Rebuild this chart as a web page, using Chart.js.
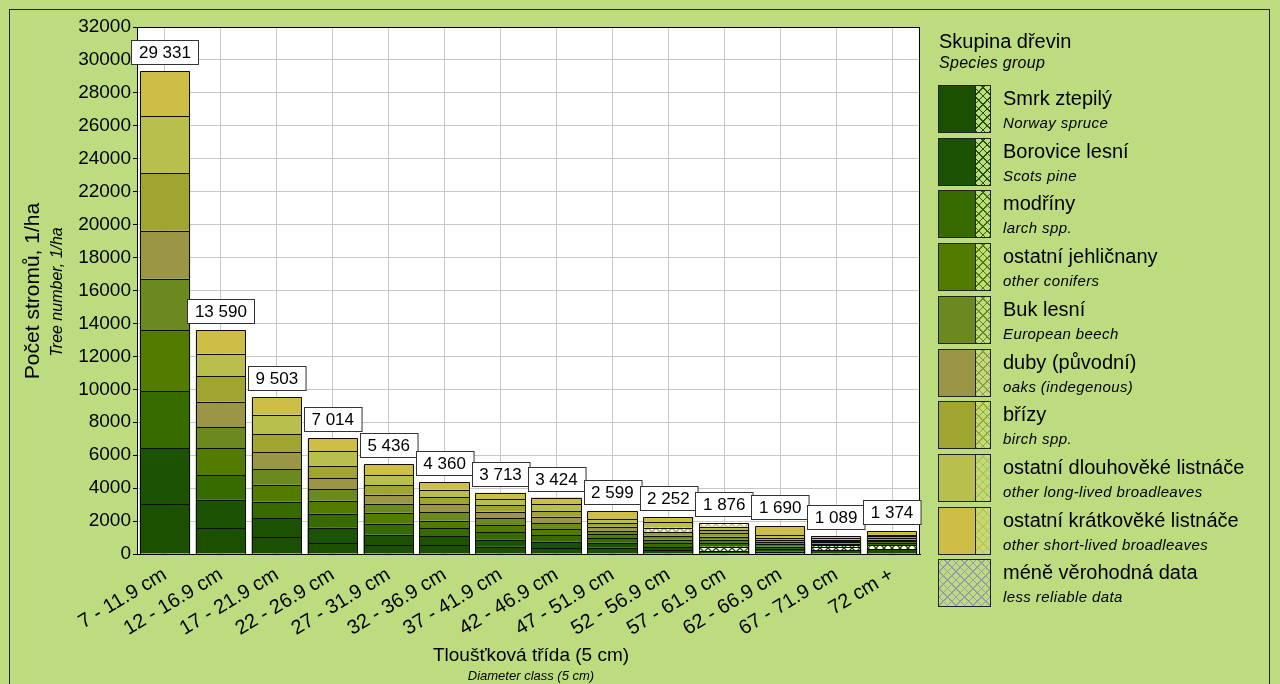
<!DOCTYPE html>
<html><head><meta charset="utf-8">
<script src="https://cdn.jsdelivr.net/npm/chart.js@4.4.1/dist/chart.umd.min.js"></script>
<style>
html,body{margin:0;padding:0;background:#bddc80;width:1280px;height:684px;overflow:hidden;font-family:"Liberation Sans",Arial,sans-serif;color:#000}
#wrap{position:absolute;left:0;top:0;width:1280px;height:684px}
#frame{position:absolute;left:9px;top:9px;width:1261px;height:700px;border:1px solid #222;box-sizing:border-box}
canvas{position:absolute;left:0;top:0}
.t{position:absolute;white-space:nowrap}
.sw{position:absolute;border:1px solid #222;box-sizing:border-box}
</style></head>
<body><div id="wrap">
<div id="frame"></div>
<canvas id="c" width="1280" height="684"></canvas>
<div id="overlay"></div>
</div>
<script>
// ---- data ----
const categories = ["7 - 11.9 cm","12 - 16.9 cm","17 - 21.9 cm","22 - 26.9 cm","27 - 31.9 cm","32 - 36.9 cm","37 - 41.9 cm","42 - 46.9 cm","47 - 51.9 cm","52 - 56.9 cm","57 - 61.9 cm","62 - 66.9 cm","67 - 71.9 cm","72 cm +"];
const totals = [29331,13590,9503,7014,5436,4360,3713,3424,2599,2252,1876,1690,1089,1374];
const smrk        = [3021,1582,1017,669,526,548,446,345,384,213,180,150,240,300];
const borovice    = [3391,1706,1147,922,655,527,426,405,294,190,260,160,170,220];
const modriny     = [3493,1480,1023,859,655,486,446,406,294,237,230,140,150,140];
const ostJehl     = [3699,1644,1024,778,676,467,446,365,226,237,200,150,70,100];
const buk         = [3124,1294,942,717,552,507,406,365,226,237,190,130,80,110];
const duby        = [2897,1542,1023,675,533,487,406,385,226,237,200,140,70,90];
const brizy       = [3535,1541,1106,737,593,425,405,365,226,237,200,130,100,110];
const dlouhoveke  = [3411,1377,1166,880,614,467,365,406,226,356,196,150,110,80];
const kratkoveke  = [2760,1424,1055,777,632,446,367,382,497,308,220,540,99,224];
const seriesNames = ["Smrk ztepilý","Borovice lesní","modříny","ostatní jehličnany","Buk lesní","duby (původní)","břízy","ostatní dlouhověké listnáče","ostatní krátkověké listnáče"];
const seriesNamesEn = ["Norway spruce","Scots pine","larch spp.","other conifers","European beech","oaks (indegenous)","birch spp.","other long-lived broadleaves","other short-lived broadleaves"];
// category indices with less reliable data, per series
const lessReliable = [[],[10,12,13],[12],[],[],[],[9],[],[10]];
const yTicks = {min:0,max:32000,step:2000};

const seriesValues = [smrk,borovice,modriny,ostJehl,buk,duby,brizy,dlouhoveke,kratkoveke];
const colors = ['#1a5000','#1b5203','#376b00','#527b00','#6c891f','#9a9645','#9fa52f','#b8bf4d','#cdbf45'];

function hatch(color,bg){
  const c=document.createElement('canvas');c.width=8;c.height=8;
  const g=c.getContext('2d');
  g.fillStyle=bg;g.fillRect(0,0,8,8);
  g.strokeStyle=color;g.lineWidth=1.3;
  g.beginPath();g.moveTo(-1,-1);g.lineTo(9,9);g.moveTo(9,-1);g.lineTo(-1,9);g.stroke();
  return g.createPattern(c,'repeat');
}

const datasets = seriesValues.map((vals,k)=>({
  label: seriesNames[k],
  data: vals,
  backgroundColor: vals.map((v,i)=> lessReliable[k].includes(i) ? hatch(colors[k],'#ffffff') : colors[k]),
  borderWidth:0,
  barPercentage:0.9,
  categoryPercentage:1.0
}));

const FONT='"Liberation Sans", Arial, sans-serif';

const plotBg={id:'plotBg',beforeDraw(ch){const a=ch.chartArea,x=ch.ctx;x.save();x.fillStyle='#fff';x.fillRect(a.left,a.top,a.right-a.left,a.bottom-a.top);x.restore();}};
const frameLbl={id:'frameLbl',afterDatasetsDraw(ch){
  const a=ch.chartArea,x=ch.ctx,xs=ch.scales.x,ys=ch.scales.y;
  x.save();
  // crisp segment outlines from the library's bar elements: one line per boundary + sides
  x.strokeStyle='#0d0d0d';x.lineWidth=1;
  ch.data.datasets.forEach((ds,di)=>{
    ch.getDatasetMeta(di).data.forEach(el=>{
      const p=el.getProps(['x','y','base','width'],true);
      const l=Math.round(p.x-p.width/2)+0.5, r=Math.round(p.x+p.width/2)-0.5;
      const t=Math.round(p.y)+0.5, b=Math.round(p.base)+0.5;
      x.beginPath();
      x.moveTo(l,b);x.lineTo(l,t);x.lineTo(r,t);x.lineTo(r,b);
      x.stroke();
    });
  });
  x.strokeStyle='#000';
  x.strokeRect(Math.round(a.left)+0.5,Math.round(a.top)+0.5,Math.round(a.right-a.left)-1,Math.round(a.bottom-a.top));
  x.font='17px '+FONT;x.textAlign='center';x.textBaseline='middle';
  totals.forEach((t,i)=>{
    const s=String(t).replace(/\B(?=(\d{3})+(?!\d))/g,' ');
    const cx=xs.getPixelForValue(i), top=ys.getPixelForValue(t);
    const w=x.measureText(s).width+15, h=24;
    const bx=Math.round(cx-w/2)+0.5, by=Math.round(top-7-h)+0.5;
    x.fillStyle='#fff';x.fillRect(bx,by,w,h);
    x.strokeStyle='#333';x.strokeRect(bx,by,w,h);
    x.fillStyle='#000';x.fillText(s,cx,by+h/2+1);
  });
  x.restore();
}};

new Chart(document.getElementById('c'),{
  type:'bar',
  data:{labels:categories,datasets},
  options:{
    responsive:false,animation:false,devicePixelRatio:1,
    layout:{padding:{left:10,top:27,right:360,bottom:0}},
    plugins:{legend:{display:false},tooltip:{enabled:false}},
    scales:{
      x:{stacked:true,
        grid:{color:'#c8c8c8',offset:false,drawTicks:false},
        border:{color:'#000'},
        ticks:{color:'#000',font:{size:20,family:FONT},maxRotation:31,minRotation:31,autoSkip:false,padding:9},
        afterFit(s){s.height=130;}
      },
      y:{stacked:true,min:yTicks.min,max:yTicks.max,
        grid:{color:'#c8c8c8',tickLength:4,tickColor:'#000'},
        border:{color:'#000'},
        ticks:{stepSize:yTicks.step,color:'#000',font:{size:19,family:FONT},padding:2,callback:v=>String(v)},
        afterFit(s){s.width=127;}
      }
    }
  },
  plugins:[plotBg,frameLbl]
});

// ---- overlay texts & legend ----
const ov=document.getElementById('overlay');
function addText(txt,css){const d=document.createElement('div');d.className='t';d.textContent=txt;Object.assign(d.style,css);ov.appendChild(d);return d;}
addText('Počet stromů, 1/ha',{left:'32px',top:'291px',fontSize:'21px',transform:'translate(-50%,-50%) rotate(-90deg)'});
addText('Tree number, 1/ha',{left:'57px',top:'292px',fontSize:'16px',fontStyle:'italic',transform:'translate(-50%,-50%) rotate(-90deg)'});
addText('Tloušťková třída (5 cm)',{left:'531px',top:'655px',fontSize:'19px',transform:'translate(-50%,-50%)'});
addText('Diameter class (5 cm)',{left:'531px',top:'675px',fontSize:'13px',fontStyle:'italic',transform:'translate(-50%,-50%)'});
addText('Skupina dřevin',{left:'939px',top:'41px',fontSize:'20px',transform:'translateY(-50%)'});
addText('Species group',{left:'939px',top:'63px',fontSize:'16px',fontStyle:'italic',letterSpacing:'0.3px',transform:'translateY(-50%)'});

function hatchCss(color,bg){
  return `repeating-linear-gradient(45deg, ${color} 0 1px, transparent 1px 6px), repeating-linear-gradient(-45deg, ${color} 0 1px, transparent 1px 6px), ${bg}`;
}
const step=52.7;
for(let k=0;k<=seriesNames.length;k++){
  const y=85+k*step;
  if(k<seriesNames.length){
    const a=document.createElement('div');a.className='sw';
    Object.assign(a.style,{left:'938px',top:y+'px',width:'38px',height:'48px',background:colors[k]});ov.appendChild(a);
    const b=document.createElement('div');b.className='sw';
    Object.assign(b.style,{left:'975px',top:y+'px',width:'16px',height:'48px',background:hatchCss(colors[k],'#bddc80')});ov.appendChild(b);
    addText(seriesNames[k],{left:'1003px',top:(y+13)+'px',fontSize:'20px',transform:'translateY(-50%)'});
    addText(seriesNamesEn[k],{left:'1003px',top:(y+37)+'px',fontSize:'15px',fontStyle:'italic',letterSpacing:'0.4px',transform:'translateY(-50%)'});
  } else {
    const a=document.createElement('div');a.className='sw';
    Object.assign(a.style,{left:'938px',top:y+'px',width:'53px',height:'48px',background:hatchCss('#9a9aae','#bddc80')});ov.appendChild(a);
    addText('méně věrohodná data',{left:'1003px',top:(y+13)+'px',fontSize:'20px',transform:'translateY(-50%)'});
    addText('less reliable data',{left:'1003px',top:(y+37)+'px',fontSize:'15px',fontStyle:'italic',letterSpacing:'0.4px',transform:'translateY(-50%)'});
  }
}
</script>
</body></html>
